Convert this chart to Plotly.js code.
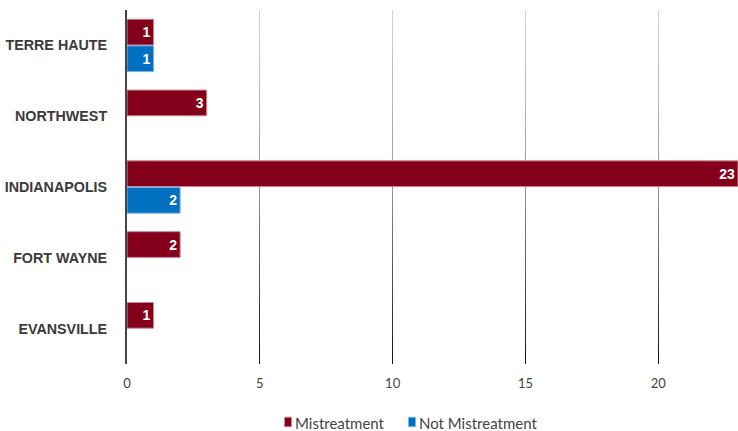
<!DOCTYPE html>
<html>
<head>
<meta charset="utf-8">
<script src="https://cdn.plot.ly/plotly-3.0.1.min.js"></script>
<style>html,body{margin:0;padding:0;background:#fff;}#chart{width:738px;height:431px;}</style>
</head>
<body>
<div id="chart"></div>
<script>
var categories = ["TERRE HAUTE", "NORTHWEST", "INDIANAPOLIS", "FORT WAYNE", "EVANSVILLE"];
var mistreatment = [1, 3, 23, 2, 1];
var notMistreatment = [1, null, 2, null, null];
var seriesNames = ["Mistreatment", "Not Mistreatment"];
var xTicks = [0, 5, 10, 15, 20];

var labelFont = {family: "Liberation Sans, Arial, sans-serif", size: 14, color: "#ffffff", weight: "bold"};

var traces = [
  {
    type: "bar", orientation: "h", name: seriesNames[0], legend: "legend",
    y: categories, x: mistreatment,
    text: mistreatment.map(function(v){return v == null ? "" : String(v);}),
    textposition: "inside", insidetextanchor: "end", constraintext: "none",
    textfont: labelFont, cliponaxis: false,
    marker: {color: "#84001A", line: {color: "#C98A95", width: 1}},
    hoverinfo: "none"
  },
  {
    type: "bar", orientation: "h", name: seriesNames[1], legend: "legend2",
    y: categories, x: notMistreatment,
    text: notMistreatment.map(function(v){return v == null ? "" : String(v);}),
    textposition: "inside", insidetextanchor: "end", constraintext: "none",
    textfont: labelFont, cliponaxis: false,
    marker: {color: "#0270C0", line: {color: "#7FB6E0", width: 1}},
    hoverinfo: "none"
  }
];

var legendFont = {family: "Lato, Noto Sans, sans-serif", size: 15, color: "#444444"};

var layout = {
  width: 738, height: 431,
  margin: {l: 127, r: 0, t: 10, b: 67, autoexpand: false},
  paper_bgcolor: "#ffffff", plot_bgcolor: "#ffffff",
  barmode: "group", bargap: 0.25, bargroupgap: 0.03,
  xaxis: {
    range: [0, 23], tickvals: xTicks, ticktext: xTicks.map(String),
    showgrid: true, gridcolor: "#7a7a7a", gridwidth: 1,
    zeroline: false, showline: false, ticks: "",
    ticklabelstandoff: 10,
    tickfont: {family: "Lato, Noto Sans, sans-serif", size: 13, color: "#444444"},
    fixedrange: true
  },
  yaxis: {
    type: "category", autorange: "reversed",
    showgrid: false, zeroline: false,
    showline: true, linecolor: "#444444", linewidth: 2,
    ticks: "", ticklabelstandoff: 15,
    tickfont: {family: "Liberation Sans, Arial, sans-serif", size: 14.3, color: "#3a3a3a", weight: "bold"},
    fixedrange: true
  },
  showlegend: true,
  legend: {
    orientation: "h", x: 0.2095, xanchor: "left", y: -0.168, yanchor: "middle",
    font: legendFont, itemwidth: 30, bgcolor: "rgba(0,0,0,0)"
  },
  legend2: {
    orientation: "h", x: 0.4124, xanchor: "left", y: -0.168, yanchor: "middle",
    font: legendFont, itemwidth: 30, bgcolor: "rgba(0,0,0,0)"
  }
};

Plotly.newPlot("chart", traces, layout, {staticPlot: true, displayModeBar: false}).then(function(gd){
  var svg = gd.querySelector("svg.main-svg");
  var ns = "http://www.w3.org/2000/svg";
  var plotH = gd._fullLayout._size.h;
  var defs = svg.querySelector("defs") || svg.insertBefore(document.createElementNS(ns, "defs"), svg.firstChild);
  var grad = document.createElementNS(ns, "linearGradient");
  grad.setAttribute("id", "gridGrad");
  grad.setAttribute("gradientUnits", "userSpaceOnUse");
  grad.setAttribute("x1", "0"); grad.setAttribute("x2", "0");
  grad.setAttribute("y1", "0"); grad.setAttribute("y2", String(plotH));
  [["0", "#d8d8d8"], ["0.5", "#9a9a9a"], ["1", "#1a1a1a"]].forEach(function(s){
    var st = document.createElementNS(ns, "stop");
    st.setAttribute("offset", s[0]); st.setAttribute("stop-color", s[1]);
    grad.appendChild(st);
  });
  defs.appendChild(grad);
  gd.querySelectorAll(".gridlayer .xgrid").forEach(function(p){
    p.style.stroke = "url(#gridGrad)";
    p.style.strokeOpacity = "1";
  });
  gd.querySelectorAll(".legendpoints path").forEach(function(p){
    p.setAttribute("d", "M9.5,-6H16.5V3.5H9.5Z");
  });
});
</script>
</body>
</html>
